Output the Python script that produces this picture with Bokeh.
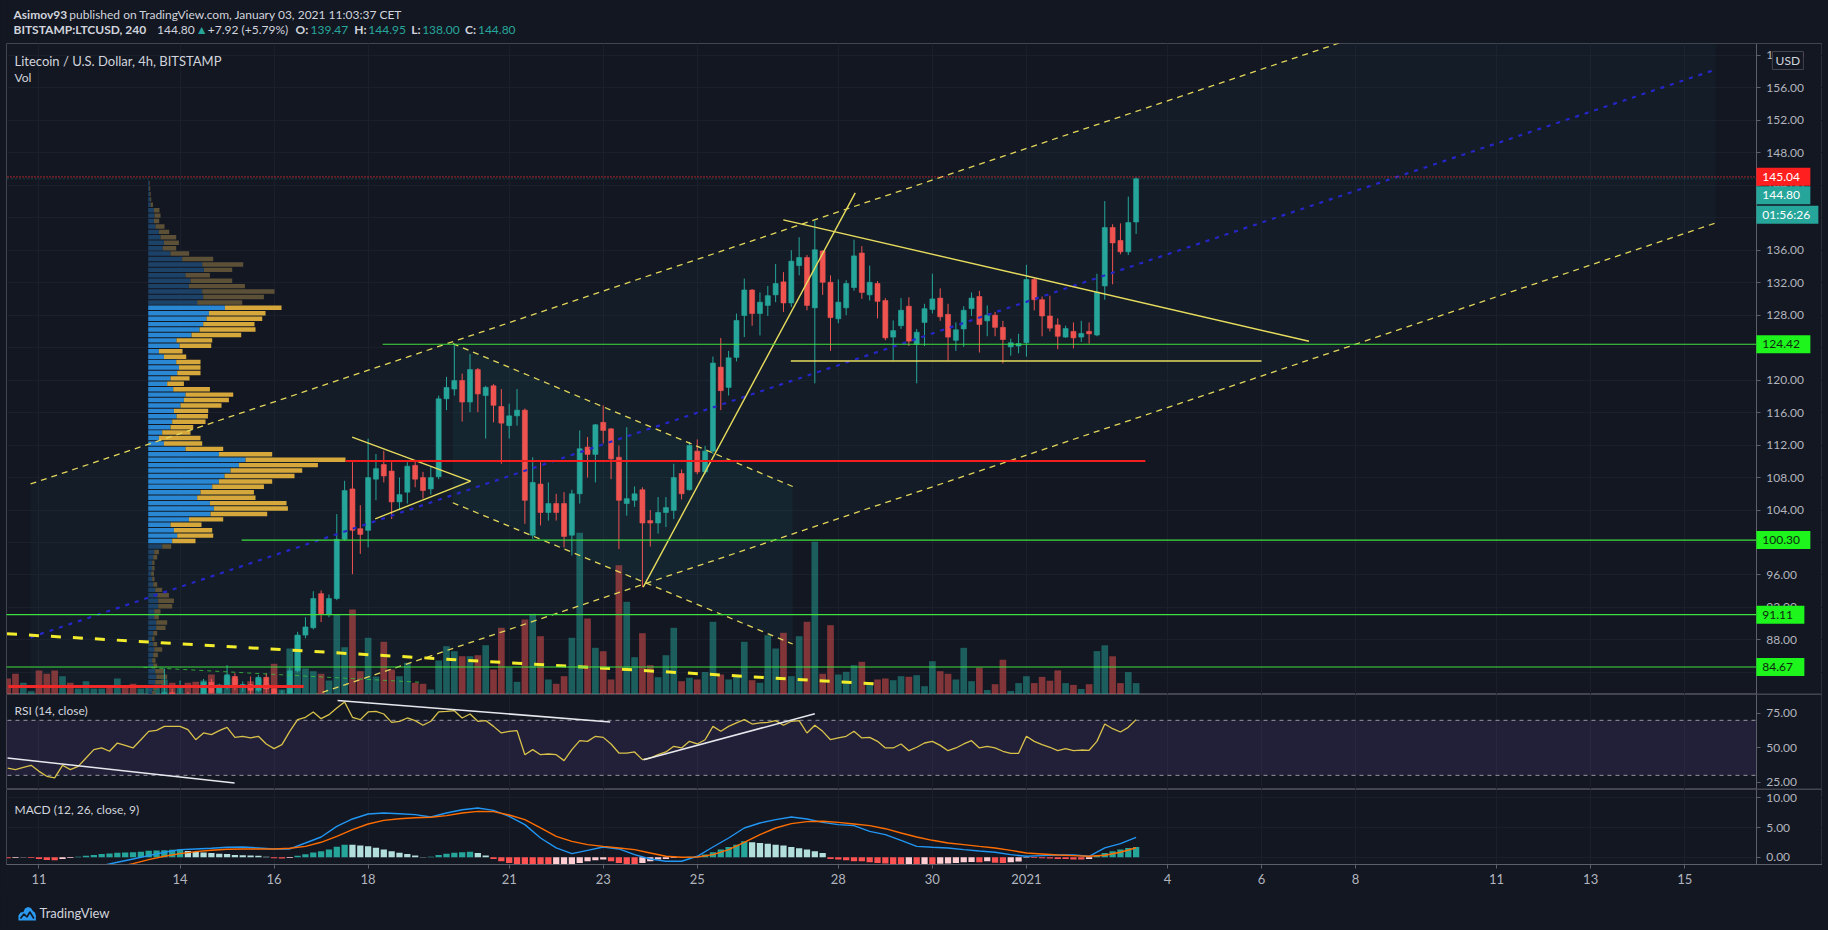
import numpy as np
import pandas as pd
from bokeh.plotting import figure
from bokeh.layouts import column
from bokeh.models import Range1d, FixedTicker, PrintfTickFormatter
from bokeh.core.properties import value
from bokeh.embed import file_html
from bokeh.resources import INLINE

# ------------------------------------------------------------------ data
first_candle = "2020-12-10 08:00"   # 4h candles, BITSTAMP:LTCUSD

opens = [75.2, 74.6, 73.8, 74.5, 74.7, 73.5, 72.6, 71.8, 72.9, 72.4,
         72.8, 73.6, 73.9, 74.3, 74.0, 75.6, 75.2, 74.9, 76.3, 77.8,
         79.6, 81.5, 80.6, 81.2, 80.5, 80.1, 82.8, 81.5, 82.2, 83.5,
         82.2, 82.5, 81.8, 83.4, 82.0, 80.8, 81.3, 84.2, 88.6, 89.5,
         93.7, 91.1, 93.1, 100.4, 106.6, 101.7, 101.5, 107.8, 109.6, 108.8,
         105.0, 106.2, 109.5, 108.0, 106.6, 108.1, 117.7, 118.9, 119.95, 117.3,
         121.3, 118.1, 119.3, 116.75, 114.4, 115.6, 116.3, 100.9, 107.2, 103.7,
         104.8, 104.8, 100.9, 106.0, 111.75, 110.85, 114.8, 114.0, 110.5, 104.8,
         105.2, 106.5, 102.7, 102.4, 103.7, 103.95, 108.5, 106.5, 111.25, 108.7,
         111.25, 121.6, 119.1, 122.8, 127.95, 131.1, 128.2, 129.2, 130.5, 132.1,
         129.5, 134.1, 135.1, 128.9, 135.9, 132.05, 127.55, 128.9, 131.4, 135.65,
         130.5, 131.9, 129.8, 125.3, 126.7, 129.1, 124.4, 127.1, 128.7, 130.1,
         128.1, 124.9, 126.3, 128.8, 130.3, 127.3, 128.0, 126.5, 124.1, 124.2,
         124.6, 132.4, 129.9, 127.9, 126.8, 125.3, 126.0, 125.3, 126.0, 125.55,
         131.6, 138.8, 137.2, 135.8, 139.47]
highs = [75.8, 75.0, 74.9, 75.1, 75.0, 73.9, 73.0, 73.3, 73.4, 73.2,
         74.0, 74.3, 74.8, 74.9, 76.0, 76.1, 75.7, 76.8, 78.4, 80.2,
         84.5, 82.0, 83.0, 81.6, 81.0, 83.2, 83.2, 82.6, 84.9, 83.9,
         82.9, 83.5, 83.7, 83.9, 82.4, 81.8, 84.6, 89.0, 90.8, 94.0,
         94.1, 93.6, 103.5, 107.6, 109.9, 104.6, 112.8, 110.9, 111.3, 109.9,
         108.0, 109.9, 110.0, 108.7, 109.3, 118.1, 120.4, 124.42, 120.8, 123.2,
         121.5, 119.3, 119.5, 118.9, 117.1, 118.9, 116.5, 110.5, 109.9, 107.4,
         106.0, 106.2, 106.5, 113.8, 113.0, 114.6, 116.9, 114.1, 111.95, 114.2,
         106.9, 106.8, 104.0, 105.6, 105.6, 109.7, 109.0, 112.4, 112.7, 111.9,
         122.9, 125.2, 123.6, 128.2, 132.5, 131.2, 130.8, 131.6, 134.3, 133.3,
         136.0, 137.6, 135.4, 139.65, 136.0, 132.9, 132.4, 132.3, 137.3, 136.5,
         134.1, 132.2, 130.1, 127.35, 130.1, 130.2, 126.3, 129.4, 133.1, 131.3,
         129.4, 127.1, 129.1, 130.8, 131.0, 129.2, 128.4, 127.3, 125.1, 125.7,
         134.2, 132.6, 130.3, 130.4, 127.6, 126.7, 127.1, 127.3, 127.1, 133.1,
         142.05, 139.2, 139.3, 142.6, 144.95]
lows = [74.0, 73.2, 73.5, 74.2, 72.8, 72.0, 71.2, 71.5, 72.0, 72.1,
        72.6, 73.3, 73.6, 73.7, 73.9, 74.8, 74.5, 74.7, 76.0, 77.5,
        79.3, 80.0, 80.3, 79.9, 79.6, 79.9, 81.0, 81.2, 81.9, 81.8,
        81.6, 81.3, 81.6, 81.5, 80.2, 80.5, 81.1, 84.0, 88.2, 89.3,
        90.2, 90.8, 92.9, 100.2, 96.1, 98.6, 99.4, 105.2, 107.4, 102.9,
        104.0, 104.8, 106.8, 105.4, 105.9, 107.8, 116.3, 118.1, 114.9, 116.05,
        116.05, 112.8, 114.8, 109.7, 112.8, 114.4, 102.3, 100.45, 102.1, 102.7,
        102.7, 99.4, 98.4, 104.8, 108.0, 107.4, 112.2, 107.8, 99.2, 103.3,
        104.4, 94.5, 99.5, 101.1, 101.9, 102.9, 105.3, 106.4, 108.4, 108.4,
        110.9, 116.3, 118.1, 122.3, 125.3, 126.7, 125.5, 127.9, 129.6, 128.4,
        129.0, 132.9, 128.6, 119.6, 130.5, 123.6, 127.0, 128.0, 131.0, 130.0,
        129.8, 127.6, 124.9, 122.4, 126.3, 124.2, 119.6, 124.2, 128.2, 127.3,
        122.4, 123.6, 124.1, 127.9, 123.4, 125.4, 125.4, 122.05, 123.0, 123.3,
        122.9, 128.6, 125.4, 126.0, 123.8, 125.2, 123.9, 124.7, 124.5, 125.4,
        129.9, 131.8, 135.5, 135.4, 138.0]
closes = [74.6, 73.8, 74.5, 74.7, 73.5, 72.6, 71.8, 72.9, 72.4, 72.8,
          73.6, 73.9, 74.3, 74.0, 75.6, 75.2, 74.9, 76.3, 77.8, 79.6,
          81.5, 80.6, 81.2, 80.5, 80.1, 82.8, 81.5, 82.2, 83.7, 82.2,
          82.5, 81.8, 83.4, 82.0, 80.8, 81.3, 84.2, 88.6, 89.6, 93.1,
          91.2, 93.1, 100.4, 106.4, 101.5, 101.0, 108.0, 109.1, 108.2, 105.0,
          105.9, 109.4, 107.8, 106.4, 108.0, 117.7, 119.1, 119.95, 117.3, 121.3,
          118.3, 119.1, 116.9, 114.7, 115.6, 116.3, 105.2, 107.4, 103.7, 104.8,
          103.7, 100.75, 106.0, 111.55, 110.85, 114.5, 113.8, 110.3, 105.2, 105.4,
          106.0, 102.4, 102.4, 103.7, 104.3, 108.0, 106.0, 111.95, 108.7, 111.25,
          122.1, 118.7, 122.75, 127.35, 131.1, 128.2, 129.6, 130.4, 131.9, 129.5,
          134.65, 135.1, 129.2, 136.05, 132.05, 127.7, 129.6, 131.9, 135.3, 130.8,
          132.05, 129.7, 125.2, 126.1, 128.6, 124.8, 125.9, 128.8, 130.0, 127.8,
          125.3, 126.2, 128.6, 130.1, 126.85, 128.0, 126.5, 125.0, 124.6, 124.5,
          132.4, 129.9, 127.9, 126.4, 125.4, 126.35, 125.2, 125.75, 125.7, 130.85,
          138.8, 136.9, 135.8, 139.4, 144.8]
volumes = [16, 20.7, 11.7, 3.3, 24, 20.7, 24, 18.3, 11.7, 6,
           13.3, 6, 6, 8.3, 16, 9, 10.7, 6, 6.7, 10,
           15, 11.7, 8.3, 11.7, 12.7, 14, 20, 10, 18.3, 16,
           8.3, 13.3, 16, 10.7, 30.7, 5, 46, 59.3, 26, 23.3,
           20.7, 14, 80, 47.3, 85, 23.3, 56.7, 18, 52.7, 25,
           18.3, 31.7, 11.7, 10.7, 5, 34, 48.3, 43.3, 38.3, 38.3,
           39.3, 49.3, 25, 66.7, 26.7, 12.7, 75, 80.7, 58.3, 15,
           10.7, 18.3, 56.7, 161.7, 76, 46.7, 43.3, 15, 129.3, 92.7,
           37.3, 61.3, 29.3, 17.3, 39.3, 66.7, 13.3, 16.7, 15, 22.5,
           72.7, 20, 15, 19.3, 52.7, 14.3, 11.7, 59.3, 46, 61.7,
           18.3, 58.3, 72.7, 152.7, 20.7, 69.3, 20, 22.7, 29.3, 32.7,
           10.7, 15, 16, 14.3, 18.3, 17.7, 19.3, 8.3, 33.3, 23.3,
           20.7, 15, 46.7, 13.3, 26.8, 4.5, 10.3, 34.8, 3.4, 11.4,
           18.3, 11.4, 17.6, 13.8, 24.1, 11.4, 9.6, 5.5, 10.3, 43.4,
           49.2, 38.2, 11.4, 22.4, 11.4]
rsi = [35.3, 34.1, 35.8, 37.3, 32.9, 29.3, 28.1, 37.3, 34.1, 36.5,
       42.6, 48.7, 49.9, 47.5, 53.5, 51.8, 49.9, 55.9, 62.0, 62.7,
       65.6, 65.6, 65.6, 63.2, 55.9, 60.8, 59.6, 62.5, 64.9, 57.6,
       58.4, 57.2, 58.4, 52.8, 49.4, 52.3, 62.0, 70.5, 72.2, 76.1,
       71.2, 74.1, 79.0, 83.3, 72.2, 70.5, 76.1, 76.5, 74.6, 68.5,
       69.3, 71.7, 69.8, 66.4, 69.3, 76.1, 76.5, 77.0, 71.7, 74.6,
       69.3, 69.8, 65.6, 60.8, 62.0, 62.5, 45.0, 48.7, 45.0, 45.5,
       45.0, 40.7, 48.7, 55.2, 54.7, 58.4, 57.6, 52.8, 46.2, 46.2,
       47.0, 41.4, 42.6, 45.0, 47.0, 51.1, 49.9, 54.7, 52.8, 55.9,
       65.6, 62.0, 65.6, 68.1, 70.5, 67.3, 68.1, 68.5, 69.8, 66.4,
       69.3, 69.8, 60.8, 66.4, 62.0, 55.9, 57.2, 58.4, 62.0, 57.2,
       57.6, 54.7, 49.9, 49.9, 52.8, 47.9, 50.4, 53.5, 54.7, 51.8,
       47.9, 49.9, 52.8, 55.2, 49.9, 51.1, 49.9, 47.5, 46.0, 46.0,
       58.4, 54.7, 52.3, 50.4, 47.9, 49.4, 47.9, 48.4, 48.2, 54.7,
       67.3, 63.9, 61.5, 64.9, 70.5]
macd_hist = [-0.15, -0.10, -0.05, -0.12, -0.30, -0.45, -0.50, -0.30, -0.10, 0.10,
             0.25, 0.40, 0.55, 0.65, 0.75, 0.80, 0.85, 0.95, 1.10, 1.15,
             1.20, 1.25, 1.29, 1.06, 0.90, 0.80, 0.70, 0.60, 0.55, 0.40,
             0.35, 0.30, 0.25, 0.10, -0.15, -0.22, -0.10, 0.25, 0.50, 0.80,
             1.00, 1.30, 1.75, 2.12, 2.10, 2.00, 1.84, 1.60, 1.30, 1.00,
             0.75, 0.55, 0.30, 0.06, 0.10, 0.40, 0.60, 0.75, 0.84, 0.95,
             0.73, 0.28, -0.28, -0.67, -0.95, -1.23, -1.40, -1.51, -1.51, -1.62,
             -1.51, -1.40, -1.23, -0.95, -0.67, -0.50, -0.39, -0.67, -0.95, -1.23,
             -1.23, -0.95, -0.67, -0.39, -0.28, -0.11, 0.06, 0.10, 0.20, 0.45,
             0.84, 1.29, 1.73, 2.12, 2.68, 2.52, 2.40, 2.29, 2.12, 1.96,
             1.73, 1.51, 1.29, 1.01, 0.73, -0.28, -0.39, -0.50, -0.67, -0.67,
             -0.84, -0.95, -1.06, -1.23, -1.40, -1.30, -1.35, -1.23, -1.23, -1.10,
             -1.06, -0.95, -0.84, -0.80, -0.84, -0.67, -0.90, -0.95, -0.84, -0.70,
             -0.06, -0.11, -0.15, -0.20, -0.28, -0.30, -0.35, -0.39, -0.28, 0.28,
             0.73, 1.01, 1.29, 1.57, 1.73]
# MACD / signal read every second candle (candle index 0, 2, 4, ... 144)
macd_line = [-2.6, -2.8, -3.0, -3.1, -2.8, -2.2, -1.40, -0.84, -0.28, 0.28,
             0.84, 1.29, 1.40, 1.51, 1.68, 1.73, 1.57, 1.40, 1.40, 2.40,
             3.41, 5.20, 6.43, 7.27, 7.43, 7.32, 7.16, 6.76, 7.43, 7.99,
             8.27, 7.88, 6.88, 5.48, 3.24, 1.57, 0.61, 1.17, 1.73, 1.40,
             0.45, -0.28, -0.67, -0.67, 0.17, 1.73, 3.24, 4.92, 5.76, 6.32,
             6.76, 6.43, 5.87, 5.48, 5.31, 4.36, 3.8, 2.85, 1.84, 1.68,
             1.57, 1.29, 1.06, 0.84, 0.45, 0.17, 0.28, 0.39, 0.39, 0.17,
             1.57, 2.29, 3.35]
signal_line = [-2.5, -2.6, -2.7, -2.7, -2.6, -2.4, -2.0, -1.62, -1.06, -0.39,
               0.17, 0.61, 0.95, 1.17, 1.34, 1.40, 1.40, 1.40, 1.51, 1.84,
               2.52, 3.52, 4.64, 5.59, 6.20, 6.48, 6.65, 6.71, 6.99, 7.43,
               7.71, 7.66, 7.10, 6.32, 4.92, 3.52, 2.68, 2.12, 1.84, 1.57,
               1.29, 0.73, 0.17, 0.0, 0.06, 0.45, 1.29, 2.52, 3.80, 4.92,
               5.65, 5.98, 6.04, 5.87, 5.59, 5.31, 4.8, 4.08, 3.41, 2.85,
               2.40, 2.12, 1.84, 1.57, 1.17, 0.73, 0.56, 0.39, 0.28, 0.17,
               0.34, 0.84, 1.6]

# visible-range volume profile, rows from the top (144.6) downward, step 0.668
vp_top, vp_step = 144.6, 0.668
vp_up = [1, 1, 1.5, 2, 2.5, 5.7, 6.3, 5.7, 7.3, 10.7,
         12.3, 15.7, 14.7, 22.3, 34, 54, 55.7, 37.3, 42.3, 40.7,
         54, 55, 49, 76.7, 60.7, 58.3, 55, 51.3, 43.3, 28.3,
         31.3, 10.7, 15.7, 28, 30.7, 29, 22.3, 19, 25, 37.3,
         35.7, 32.3, 25.7, 28.3, 24, 22.3, 14, 10.7, 15.7, 37.3,
         70.7, 97.3, 90.7, 82.3, 76.3, 70.7, 64, 52.3, 49, 61.7,
         65.7, 62.3, 40.7, 22.3, 25.7, 29, 24, 14, 6, 5,
         4, 4, 3, 4, 5, 7, 9, 10, 10, 6,
         6, 8, 8, 5, 4, 5, 6, 5, 4, 5,
         7, 8, 7, 5, 4]
vp_total = [1.5, 2, 2.5, 3, 4.7, 11.3, 12.3, 11, 16.3, 21,
            28, 30.7, 28, 41, 65, 95, 84, 61.7, 84, 96.7,
            126.3, 115.7, 94, 133.3, 117.3, 114, 106.3, 107.3, 93, 64,
            63, 34.3, 38, 52.3, 52.3, 52.3, 41.3, 35.7, 61.7, 85,
            80.7, 73.3, 60, 59.7, 57.3, 45, 42.3, 52.3, 54, 75,
            124, 197.3, 169.7, 154, 146.3, 124, 115.7, 105.7, 107.3, 138.3,
            139.7, 119, 75, 53.3, 64, 65, 47.3, 23, 10.7, 9,
            6.3, 6.3, 5.7, 6.3, 9, 14, 20.7, 25.7, 24, 12.3,
            10.7, 19, 17.3, 9, 6.3, 9, 14, 9.7, 7.3, 9,
            16.3, 19, 17.3, 9, 7.3]
value_area_rows = (23, 66)

price_ticks = [84, 88, 92, 96, 100, 104, 108, 112, 116, 120, 124, 128, 132, 136, 140, 144, 148, 152, 156, 160]
rsi_ticks = [25, 50, 75]
macd_ticks = [0, 5, 10]
date_ticks = [11, 14, 16, 18, 21, 23, 25, 28, 30, 32, 35, 37, 39, 42, 44, 46]   # day number (Dec 1 = 1, Jan 1 = 32)
date_labels = ["11", "14", "16", "18", "21", "23", "25", "28", "30", "2021", "4", "6", "8", "11", "13", "15"]

# chart drawings (day number, price)
reg_x, reg_mid, reg_dev = [10.82, 46.66], [88.32, 158.25], 18.89
chan_x, chan_up, chan_lo = [19.80, 27.03], [124.5, 106.9], [104.9, 87.5]
tri_up = ([17.66, 20.18], [112.97, 107.55])
tri_lo = ([18.15, 20.18], [102.92, 107.55])
up_trend = ([23.85, 28.36], [94.5, 143.06])
down_trend = ([26.83, 38.01], [139.74, 124.79])
flat_support = ([26.99, 37.0], [122.35, 122.35])
poc_line = ([17.52, 34.53], [110.04, 110.04])
thick_dash = ([10.32, 28.75], [88.76, 82.6])
green_dash = ([13.22, 19.14], [84.63, 82.78])
red_low = ([10.35, 16.63], [82.27, 82.27])
green_levels = [124.42, 100.30, 91.11, 84.67]
green_level_start = [18.31, 15.31, 10.0, 10.0]
alert_level = 145.04
last_price = 144.80
countdown = "01:56:26"
rsi_lines = [([10.33, 15.16], [42.6, 24.4]), ([17.35, 23.15], [84.5, 68.8]), ([23.86, 27.50], [41.3, 74.8])]

n = len(opens)
assert len(highs) == n and len(lows) == n and len(closes) == n and len(volumes) == n
assert len(rsi) == n and len(macd_hist) == n
assert len(macd_line) == len(signal_line) == (n + 1) // 2
assert len(vp_up) == len(vp_total)

# ------------------------------------------------------------------ style
FONT = "Lato"
BG = "#131722"
TXT = "#b2b5be"
LEG = "#d1d4dc"
UP = "#26a69a"
DN = "#ef5350"
AXIS = "#5d606b"
OUTL = "#434651"
GRID = "#1b1f2b"
YEL = "#e3d65a"
GREEN = "#3fe03f"
BADGE_G = "#1df51d"

LB = 6                            # left border in pixels (chart frame starts at x=6)
W = 1816                          # frame width
PX_PER_DAY = 47.02
X0 = 10.309
X1 = X0 + W / PX_PER_DAY          # frame spans the whole width, price scale inside
AXIS_X = 47.524                   # day at which the price scale line sits

MAIN_Y = (81.283, 161.456)
RSI_Y = (19.69, 88.78)
MACD_Y = (-1.21, 11.38)

times = pd.date_range(first_candle, periods=n, freq="4h")
xday = ((times - pd.Timestamp("2020-12-01")) / pd.Timedelta(days=1) + 1).to_numpy()
cw = 1.0 / 6.0
o = np.array(opens); c = np.array(closes)
is_up = c >= o
ccol = np.where(is_up, UP, DN)

xr = Range1d(X0, X1)


def base_fig(height, yr, bottom=0, xaxis=False):
    f = figure(width=W + LB, height=height, x_range=xr, y_range=Range1d(*yr),
               output_backend="svg", toolbar_location=None,
               x_axis_location="below" if xaxis else None, y_axis_location="right",
               min_border_left=LB, min_border_right=0, min_border_top=0, min_border_bottom=bottom,
               background_fill_color=BG, border_fill_color=BG,
               outline_line_color=OUTL, outline_line_width=1)
    f.xgrid.ticker = FixedTicker(ticks=date_ticks)
    f.xgrid.grid_line_color = GRID
    f.ygrid.grid_line_color = GRID
    return f


def style_yaxis(f, ticks):
    ax = f.yaxis[0]
    ax.fixed_location = AXIS_X
    ax.ticker = FixedTicker(ticks=ticks)
    ax.formatter = PrintfTickFormatter(format="%.2f")
    ax.major_label_text_color = TXT
    ax.major_label_text_font = FONT
    ax.major_label_text_font_size = "12px"
    ax.axis_line_color = AXIS
    ax.major_tick_line_color = AXIS
    ax.major_tick_out = 4
    ax.major_tick_in = 0
    ax.minor_tick_line_color = None
    ax.major_label_standoff = 6
    f.ygrid.ticker = FixedTicker(ticks=ticks)


def cover_scale_area(f, yr, px_per_y):
    # plain background behind the price scale (hides grid lines and drawings there)
    f.quad(left=AXIS_X, right=X1 - 1.0 / PX_PER_DAY, bottom=yr[0] + 1.0 / px_per_y,
           top=yr[1] - 1.0 / px_per_y, fill_color=BG, line_color=None)


def pane_label(f, y, text, size="12px"):
    f.text(x=[X0 + 8 / PX_PER_DAY], y=[y], text=[text], text_color=LEG,
           text_font=value(FONT), text_font_size=size, text_baseline="middle", level="overlay")


def badge(f, yv, text, bg, fg, px_per_y, w=54, h=18):
    f.quad(left=AXIS_X, right=AXIS_X + w / PX_PER_DAY, bottom=yv - h / 2 / px_per_y,
           top=yv + h / 2 / px_per_y, fill_color=bg, line_color=None, level="overlay")
    f.text(x=[AXIS_X + 6 / PX_PER_DAY], y=[yv], text=[text], text_color=fg,
           text_font=value(FONT), text_font_size="12px", text_baseline="middle", level="overlay")


# ------------------------------------------------------------------ main pane
p = base_fig(651, MAIN_Y)
PXY = 651 / (MAIN_Y[1] - MAIN_Y[0])
p.extra_y_ranges = {"vol": Range1d(0, 651)}
style_yaxis(p, price_ticks)

reg_upper = [m_ + reg_dev for m_ in reg_mid]
reg_lower = [m_ - reg_dev for m_ in reg_mid]
p.patch(reg_x + reg_x[::-1], reg_upper + reg_lower[::-1], fill_color="#1d8f8f", fill_alpha=0.05, line_color=None)
p.patch(chan_x + chan_x[::-1], chan_up + chan_lo[::-1], fill_color="#2aa0b0", fill_alpha=0.07, line_color=None)

p.vbar(x=xday, width=cw * 0.85, top=volumes, bottom=0, y_range_name="vol",
       fill_color=ccol, fill_alpha=0.5, line_color=None)

rows = np.arange(len(vp_up))
centers = vp_top - (rows + 0.5) * vp_step
in_va = (rows >= value_area_rows[0]) & (rows <= value_area_rows[1])
vp_x0 = 13.323
up_r = vp_x0 + np.array(vp_up) / PX_PER_DAY
tot_r = vp_x0 + np.array(vp_total) / PX_PER_DAY
p.hbar(y=centers, height=vp_step * 0.82, left=vp_x0, right=up_r,
       fill_color=np.where(in_va, "#2a87d4", "#1c4268"), line_color=None)
p.hbar(y=centers, height=vp_step * 0.82, left=up_r, right=tot_r,
       fill_color=np.where(in_va, "#d6a83c", "#5c5137"), line_color=None)

p.segment(x0=xday, y0=lows, x1=xday, y1=highs, line_color=ccol, line_width=1)
p.vbar(x=xday, width=cw * 0.64, top=np.maximum(o, c), bottom=np.minimum(o, c),
       fill_color=ccol, line_color=ccol, line_width=0.6)

p.line(reg_x, reg_upper, line_color=YEL, line_width=1.3, line_dash="6 5")
p.line(reg_x, reg_lower, line_color=YEL, line_width=1.3, line_dash="6 5")
p.line(reg_x, reg_mid, line_color="#2626c8", line_width=2.2, line_dash="4 6")
p.line(chan_x, chan_up, line_color=YEL, line_width=1.3, line_dash="6 5")
p.line(chan_x, chan_lo, line_color=YEL, line_width=1.3, line_dash="6 5")
for xs, ys in (tri_up, tri_lo, up_trend, down_trend, flat_support):
    p.line(xs, ys, line_color="#e8dc5e", line_width=1.4)
p.line(*poc_line, line_color="#f51e1e", line_width=2)
p.line(*thick_dash, line_color="#f2ec2c", line_width=3, line_dash="10 12")
p.line(*green_dash, line_color="#3cc43c", line_width=1, line_dash="4 4", line_alpha=0.8)
p.line(*red_low, line_color="#f02828", line_width=3)
for lvl, x_start in zip(green_levels, green_level_start):
    p.line([x_start, AXIS_X], [lvl, lvl], line_color=GREEN, line_width=1.2)
p.line([X0 - 1, AXIS_X], [alert_level, alert_level], line_color="#ff3030", line_width=1.2, line_dash="1 2")
p.line([X0 - 1, AXIS_X], [last_price, last_price], line_color=UP, line_width=1, line_dash="1 3", line_alpha=0.6)
cover_scale_area(p, MAIN_Y, PXY)

pane_label(p, 159.36, "Litecoin / U.S. Dollar, 4h, BITSTAMP", "13px")
pane_label(p, 157.27, "Vol", "12px")

badge(p, alert_level, "%.2f" % alert_level, "#ff1f1f", "#ffffff", PXY)
badge(p, 142.77, "%.2f" % last_price, UP, "#ffffff", PXY)
badge(p, 140.36, countdown, UP, "#ffffff", PXY, w=62)
for lvl in green_levels:
    badge(p, lvl, "%.2f" % lvl, BADGE_G, "#0f2a0f", PXY, w=54 if lvl >= 100 else 48)
# "USD" scale-mode box
p.quad(left=AXIS_X + 16 / PX_PER_DAY, right=AXIS_X + 47 / PX_PER_DAY,
       bottom=159.36 - 9 / PXY, top=159.36 + 9 / PXY,
       fill_color=BG, line_color=OUTL, line_width=1, level="overlay")
p.text(x=[AXIS_X + 31.5 / PX_PER_DAY], y=[159.36], text=["USD"], text_color=LEG, text_align="center",
       text_font=value(FONT), text_font_size="12px", text_baseline="middle", level="overlay")

# ------------------------------------------------------------------ RSI pane
r = base_fig(95, RSI_Y)
PXR = 95 / (RSI_Y[1] - RSI_Y[0])
style_yaxis(r, rsi_ticks)
r.ygrid.visible = False
r.quad(left=X0 - 1, right=AXIS_X, bottom=30, top=70, fill_color="#7e57c2", fill_alpha=0.14, line_color=None)
for lv in (70, 30):
    r.line([X0 - 1, AXIS_X], [lv, lv], line_color="#9598a1", line_dash="4 4", line_width=1)
r.line(xday, rsi, line_color="#d9c24a", line_width=1.3)
for xs, ys in rsi_lines:
    r.line(xs, ys, line_color="#e6e8ee", line_width=1.5)
cover_scale_area(r, RSI_Y, PXR)
pane_label(r, 78.9 - 1.8, "RSI (14, close)")

# ------------------------------------------------------------------ MACD pane
m = base_fig(104, MACD_Y, bottom=29, xaxis=True)
PXM = 75 / (MACD_Y[1] - MACD_Y[0])
style_yaxis(m, macd_ticks)
h = np.array(macd_hist)
prev = np.concatenate([[h[0]], h[:-1]])
hcol = np.where(h >= 0, np.where(h >= prev, "#26a69a", "#b2dfdb"),
                np.where(h <= prev, "#ff5252", "#ffcdd2"))
m.vbar(x=xday, width=cw * 0.8, top=h, bottom=0, fill_color=hcol, line_color=None)
mx = xday[::2]
m.line(mx, macd_line, line_color="#2196f3", line_width=1.4)
m.line(mx, signal_line, line_color="#ff6d00", line_width=1.4)
cover_scale_area(m, MACD_Y, PXM)
pane_label(m, 8.1, "MACD (12, 26, close, 9)")
xa = m.xaxis[0]
xa.ticker = FixedTicker(ticks=date_ticks)
xa.major_label_overrides = {t: lab for t, lab in zip(date_ticks, date_labels)}
xa.major_label_text_color = TXT
xa.major_label_text_font = FONT
xa.major_label_text_font_size = "13px"
xa.axis_line_color = AXIS
xa.major_tick_line_color = AXIS
xa.major_tick_out = 4
xa.major_tick_in = 0
xa.minor_tick_line_color = None
xa.major_label_standoff = 5

# ------------------------------------------------------------------ header
hdr = figure(width=W + LB, height=43, x_range=Range1d(0, W + LB), y_range=Range1d(43, 0),
             output_backend="svg", toolbar_location=None, x_axis_location=None, y_axis_location=None,
             min_border=0, background_fill_color=BG, border_fill_color=BG, outline_line_color=None)
hdr.grid.visible = False


def head(pieces, y):
    for xpos, s, bold, col in pieces:
        hdr.text(x=[xpos], y=[y], text=[s], text_color=col, text_font=value(FONT),
                 text_font_size="12px", text_font_style="bold" if bold else "normal",
                 text_baseline="middle")


head([(7, "Asimov93", True, LEG),
      (63, "published on TradingView.com, January 03, 2021 11:03:37 CET", False, LEG)], 14)
head([(7, "BITSTAMP:LTCUSD, 240", True, LEG), (151, "144.80", False, LEG), (190, "\u25b2", False, UP),
      (202, "+7.92 (+5.79%)", False, LEG), (290, "O:", True, LEG), (305, "139.47", False, UP),
      (349, "H:", True, LEG), (363, "144.95", False, UP), (406, "L:", True, LEG), (417, "138.00", False, UP),
      (460, "C:", True, LEG), (473, "144.80", False, UP)], 29)

# ------------------------------------------------------------------ footer
ftr = figure(width=W + LB, height=36, x_range=Range1d(0, W + LB), y_range=Range1d(36, 0),
             output_backend="svg", toolbar_location=None, x_axis_location=None, y_axis_location=None,
             min_border=0, background_fill_color=BG, border_fill_color=BG, outline_line_color=None)
ftr.grid.visible = False
ftr.patch([12, 12, 14, 17, 18.5, 21.5, 24.5, 26.5, 28.5, 29.5, 29.5],
          [27, 22, 19, 18.5, 15, 13.5, 14.5, 17.5, 19, 22, 27], fill_color="#2a9bf0", line_color=None)
ftr.line([14, 17.5, 20.5, 23.5, 27.5], [25, 20.5, 23.5, 18.5, 25], line_color=BG, line_width=1.6)
ftr.text(x=[33], y=[19], text=["TradingView"], text_color=LEG, text_font=value(FONT),
         text_font_size="13px", text_baseline="middle")

layout = column(hdr, p, r, m, ftr, spacing=0,
                styles={"background-color": BG, "box-shadow": "0 0 0 40px " + BG})

open("out.html", "w").write(file_html(layout, INLINE))
